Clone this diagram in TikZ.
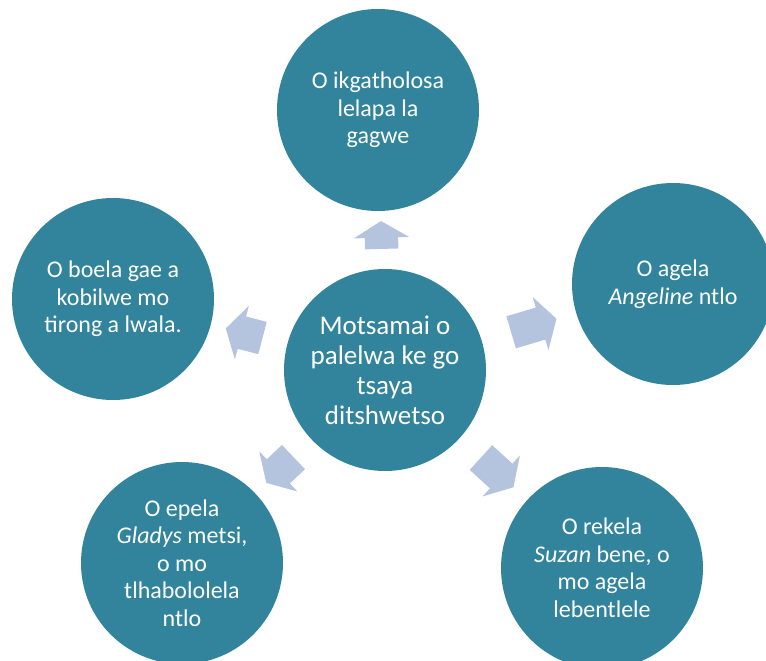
\documentclass[tikz,border=0pt]{standalone}
\usepackage{fontspec}
\setmainfont{Carlito}
\usetikzlibrary{shapes.arrows,calc}
\definecolor{circleteal}{RGB}{49,132,155}
\definecolor{arrowblue}{RGB}{180,195,222}

\begin{document}
\begin{tikzpicture}[x=1pt,y=-1pt,
	bubble/.style={circle, fill=circleteal, minimum size=202pt, inner sep=0pt, align=center, text=white, font=\fontsize{24}{27.5}\selectfont},
	blockarrow/.style={single arrow, fill=arrowblue, inner xsep=0pt, inner ysep=16.5pt, single arrow head extend=11pt, single arrow tip angle=118}]
	\useasboundingbox (0,0) rectangle (766,661);
	\node[bubble, font=\fontsize{27}{30}\selectfont] (centre) at (385,370) {Motsamai o\\palelwa ke go\\tsaya\\ditshwetso};
	\node[bubble] (family) at (378,110) {O ikgatholosa\\lelapa la\\gagwe};
	\node[bubble] (angeline) at (673,284) {O agela\\\textit{Angeline} ntlo};
	\node[bubble] (suzan) at (602,568) {O rekela\\\textit{Suzan} bene, o\\mo agela\\lebentlele};
	\node[bubble] (gladys) at (182,563) {O epela\\\textit{Gladys} metsi,\\o mo\\tlhabololela\\ntlo};
	\node[bubble] (lwala) at (113,299) {O boela gae a\\kobilwe mo\\tirong a lwala.};
	% arrows from the centre out to each circle
	\foreach \outer in {family,angeline,suzan,gladys,lwala}
		\path let \p1=($(\outer)-(centre)$), \n1={atan2(\y1,\x1)}, \n2={0.48*(veclen(\x1,\y1)-202)} in
			node[blockarrow, rotate=\n1, minimum height=\n2] at ($(centre)!0.5!(\outer)$) {};
\end{tikzpicture}
\end{document}
